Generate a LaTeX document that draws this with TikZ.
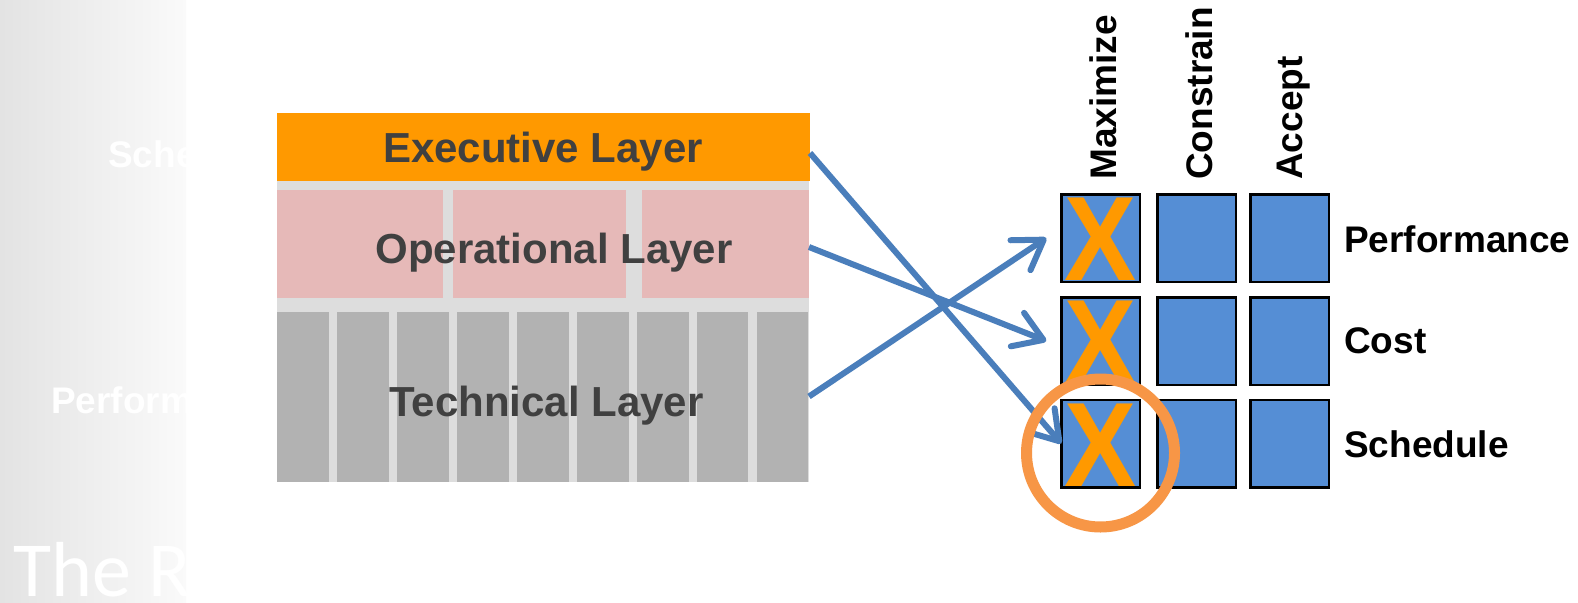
\documentclass[tikz,border=0pt]{standalone}
\usepackage{fontspec}
\setmainfont{Liberation Sans}
\newfontfamily\titlefont{Carlito}
\usetikzlibrary{arrows.meta}

\definecolor{execorange}{RGB}{255,153,0}
\definecolor{oppink}{RGB}{230,185,184}
\definecolor{bandgray}{RGB}{221,221,221}
\definecolor{techgray}{RGB}{178,178,178}
\definecolor{labeldark}{RGB}{64,64,64}
\definecolor{cellblue}{RGB}{85,142,213}
\definecolor{arrowblue}{RGB}{74,126,187}
\definecolor{ringorange}{RGB}{247,150,70}
\definecolor{panelgray}{RGB}{227,227,227}

\tikzset{
  slab/.style={rectangle, inner sep=0pt, outer sep=0pt, draw=none},
  layertext/.style={inner sep=0pt, text=labeldark, font=\fontsize{42}{42}\selectfont\bfseries},
  cellbox/.style={rectangle, draw=black, line width=2.5pt, fill=cellblue,
    minimum width=78.5pt, minimum height=87.5pt, inner sep=0pt, outer sep=0pt},
  xmark/.style={inner sep=0pt, text=execorange, xscale=0.9,
    font=\fontsize{120}{120}\selectfont\bfseries},
  gridlabel/.style={inner sep=0pt, text=black, font=\fontsize{37}{37}\selectfont\bfseries},
  ghost/.style={inner sep=0pt, text=white, font=\fontsize{37}{37}\selectfont\bfseries},
  conn/.style={draw=arrowblue, line width=6pt,
    -{Straight Barb[length=28pt, width=36pt, round]}},
  ring/.style={draw=ringorange, line width=11pt}
}

\begin{document}
\begin{tikzpicture}[x=1pt, y=-1pt]
\useasboundingbox (0,0) rectangle (1578,602);
\fill[white] (0,0) rectangle (1578,602);

% faded side panel with clipped slide text
\shade[left color=panelgray, right color=white!98!black] (0,0) rectangle (186,602);
\begin{scope}
  \clip (0,0) rectangle (186,602);
  \node[ghost, anchor=base west] (ghostA) at (108,167) {Sche};
  \node[ghost, anchor=base west] (ghostB) at (51,413) {Perform};
  \node[inner sep=0pt, text=white, font=\titlefont\fontsize{78}{78}\selectfont,
        anchor=base west] (ghostC) at (13,596) {The R};
\end{scope}

% layered architecture block
\fill[bandgray] (277,181) rectangle (809,481.5);
\node[slab, fill=execorange, minimum width=533pt, minimum height=68pt] (exec) at (543.5,147) {};
\node[slab, minimum width=532pt, minimum height=108pt] (oper) at (543,244) {};
\node[slab, minimum width=532pt, minimum height=170pt] (tech) at (543,396.5) {};
\fill[oppink] (277,190) rectangle (443,298);
\fill[oppink] (453,190) rectangle (626,298);
\fill[oppink] (642,190) rectangle (809,298);
\foreach \i in {0,...,8} {
  \fill[techgray] ({277+59.95*\i},312) rectangle ({277+59.95*\i+51.8},481.5);
}
\node[layertext, anchor=base] (execlabel) at (543,162.7) {Executive Layer};
\node[layertext, anchor=base] (operlabel) at (554,263) {Operational Layer};
\node[layertext, anchor=base] (techlabel) at (546.5,416) {Technical Layer};

% decision grid
\foreach \c/\x in {1/1100.5, 2/1196.5, 3/1289.5} {
  \foreach \r/\y in {1/238, 2/341, 3/443.5} {
    \node[cellbox] (c\r\c) at (\x,\y) {};
  }
}
\foreach \r in {1,2,3} {
  \node[xmark, anchor=base] (x\r) at ([yshift=1pt]c\r1.south) {X};
}

\node[gridlabel, rotate=90, anchor=base west] (hmax) at (1116,180) {Maximize};
\node[gridlabel, rotate=90, anchor=base west] (hcon) at (1212,180) {Constrain};
\node[gridlabel, rotate=90, anchor=base west] (hacc) at (1302.5,180) {Accept};

\node[gridlabel, anchor=base west] (rperf) at (1344,252) {Performance};
\node[gridlabel, anchor=base west] (rcost) at (1344,353) {Cost};
\node[gridlabel, anchor=base west] (rsched) at (1344,457) {Schedule};

% mapping arrows
\draw[conn] ([yshift=-6pt]exec.east) -- (c31.west);
\draw[conn] ([yshift=-3pt]oper.east) -- ([xshift=-15pt]c21.west);
\draw[conn] (tech.east) -- ([xshift=-15pt]c11.west);

% highlight ring
\draw[ring] (1100.5,453) circle [radius=74];
\end{tikzpicture}
\end{document}
